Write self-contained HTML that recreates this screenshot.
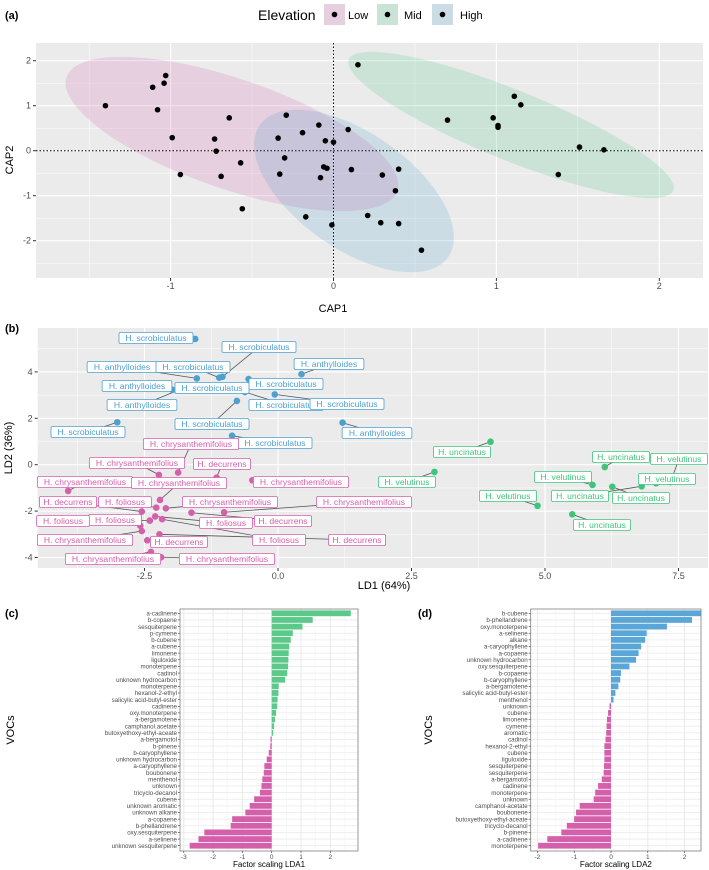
<!DOCTYPE html>
<html><head><meta charset="utf-8"><style>
html,body{margin:0;padding:0;background:#fff;}
svg{display:block;font-family:"Liberation Sans",Arial,sans-serif;}
</style></head><body>
<svg id="fig" width="709" height="870" viewBox="0 0 709 870" xmlns="http://www.w3.org/2000/svg"></svg>
<script>
// ---------- Panel (a) data ----------
const capLow = [[-1.4,1.0],[-1.11,1.41],[-1.04,1.5],[-1.03,1.67],[-1.08,0.91],[-0.99,0.29],[-0.73,0.26],[-0.72,-0.01],[-0.64,0.73],[-0.94,-0.53],[-0.69,-0.57],[-0.57,-0.27],[-0.56,-1.29],[-0.29,0.79],[-0.34,0.28],[-0.3,-0.16],[-0.33,-0.52],[-0.19,0.4],[-0.09,0.57],[-0.05,0.22],[0.0,0.19],[-0.06,-0.36],[-0.04,-0.39],[-0.08,-0.6],[0.09,0.47],[0.11,-0.42]];
const capHigh = [[0.3,-0.54],[0.4,-0.41],[0.38,-0.89],[-0.17,-1.47],[-0.01,-1.65],[0.21,-1.44],[0.29,-1.6],[0.4,-1.62],[0.54,-2.21]];
const capMid = [[0.15,1.91],[0.7,0.68],[0.98,0.73],[1.01,0.56],[1.01,0.52],[1.11,1.21],[1.15,1.02],[1.38,-0.53],[1.51,0.08],[1.66,0.02]];
const capXTicks = [-1,0,1,2];
const capYTicks = [2,1,0,-1,-2];

// ---------- Panel (b) data ----------
const ldNames = ["H. scrobiculatus","H. anthylloides","H. scrobiculatus","H. scrobiculatus","H. anthylloides","H. scrobiculatus","H. anthylloides","H. scrobiculatus","H. anthylloides","H. scrobiculatus","H. scrobiculatus","H. scrobiculatus","H. scrobiculatus","H. scrobiculatus","H. anthylloides",
"H. chrysanthemifolius","H. chrysanthemifolius","H. decurrens","H. chrysanthemifolius","H. chrysanthemifolius","H. chrysanthemifolius","H. decurrens","H. foliosus","H. chrysanthemifolius","H. chrysanthemifolius","H. decurrens","H. foliosus","H. foliosus","H. foliosus","H. foliosus","H. chrysanthemifolius","H. decurrens","H. decurrens","H. chrysanthemifolius","H. chrysanthemifolius",
"H. uncinatus","H. velutinus","H. velutinus","H. velutinus","H. uncinatus","H. uncinatus","H. uncinatus","H. uncinatus","H. velutinus","H. velutinus"];
const ldGroup = [0,0,0,0,0,0,0,0,0,0,0,0,0,0,0, 1,1,1,1,1,1,1,1,1,1,1,1,1,1,1,1,1,1,1,1, 2,2,2,2,2,2,2,2,2,2];
const ld1 = [-1.55,-1.52,-1.10,-1.04,0.44,-0.55,-1.98,-1.91,-1.88,-0.62,-0.06,-3.01,-0.77,-0.86,1.21,
-1.87,-2.23,-1.15,-0.48,-3.93,-2.21,-2.55,-2.28,-2.10,-1.01,-1.62,-2.30,-2.40,-2.17,-2.58,-2.55,-2.22,-2.45,-2.38,-2.19,
3.98,2.93,4.86,5.89,6.12,6.26,5.51,6.81,7.08,7.35];
const ld2 = [5.42,3.72,3.75,3.79,3.90,3.69,3.23,3.23,3.20,3.13,3.03,1.83,2.75,1.25,1.81,
-0.34,-0.44,-0.56,-0.67,-1.13,-1.52,-2.02,-1.85,-1.88,-2.05,-2.07,-2.23,-2.41,-2.35,-2.63,-2.86,-3.00,-3.26,-3.76,-3.99,
0.99,-0.31,-1.77,-0.87,-0.10,-0.95,-2.14,-0.93,-0.80,-0.75];
const ldXTicks = [-2.5,0,2.5,5,7.5];
const ldYTicks = [4,2,0,-2,-4];
// label box centres (layout, px)
const ldLabelPos = [[156,338],[122,367],[193,367],[259,347],[329,364],[286,384],[137,386],[212,388],[142,405],[286,405],[347,404],[88,432],[212,424],[275,443],[377,433],
[191,444],[137,463],[222,464],[301,482],[85,482],[179,483],[68,502],[125,502],[230,502],[364,502],[283,521],[226,523],[115,520],[279,540],[63,521],[85,540],[357,540],[179,542],[113,559],[227,559],
[462,452],[407,482],[508,496],[563,477],[621,457],[641,498],[602,525],[580,496],[667,479],[679,459]];

// ---------- Panel (c) data ----------
const cNames = ["a-cadinene","b-copaene","sesquiterpene","p-cymene","b-cubene","a-cubene","limonene","liguloxide","monoterpene","cadinol","unknown hydrocarbon","monoterpene","hexanol-2-ethyl","salicylic acid-butyl-ester","cadinene","oxy.monoterpene","a-bergamotene","camphanol.acetate","butoxyethoxy-ethyl-aceate","a-bergamotol","b-pinene","b-caryophyllene","unknown hydrocarbon","a-caryophyllene","boubonene","menthenol","unknown","tricyclo-decanol","cubene","unknown aromatic","unknown alkane","a-copaene","b-phellandrene","oxy.sesquiterpene","a-selinene","unknown sesquiterpene"];
const cValues = [2.7,1.4,1.05,0.72,0.65,0.6,0.58,0.57,0.56,0.53,0.46,0.24,0.23,0.2,0.19,0.15,0.11,0.08,0.05,-0.04,-0.05,-0.1,-0.17,-0.25,-0.27,-0.32,-0.35,-0.4,-0.6,-0.75,-0.9,-1.35,-1.4,-2.3,-2.5,-2.8];
const cTicks = [-3,-2,-1,0,1,2];

// ---------- Panel (d) data ----------
const dNames = ["b-cubene","b-phellandrene","oxy.monoterpene","a-selinene","alkane","a-caryophyllene","a-copaene","unknown hydrocarbon","oxy.sesquiterpene","b-copaene","b-caryophyllene","a-bergamotene","salicylic acid-butyl-ester","menthenol","unknown","cubene","limonene","cymene","aromatic","cadinol","hexanol-2-ethyl","cubene","liguloxide","sesquiterpene","sesquiterpene","a-bergamotol","cadinene","monoterpene","unknown","camphanol-acetate","boubonene","butoxyethoxy-ethyl-aceate","tricyclo-decanol","b-pinene","a-cadinene","monoterpene"];
const dValues = [2.45,2.2,1.52,0.97,0.93,0.82,0.75,0.68,0.5,0.27,0.25,0.2,0.12,0.07,-0.04,-0.08,-0.11,-0.12,-0.13,-0.15,-0.18,-0.18,-0.18,-0.19,-0.2,-0.25,-0.35,-0.43,-0.47,-0.85,-0.95,-1.0,-1.2,-1.35,-1.73,-1.98];
const dTicks = [-2,-1,0,1,2];

const NS="http://www.w3.org/2000/svg";
const svg=document.getElementById('fig');
function mk(tag,attrs,parent){const e=document.createElementNS(NS,tag);for(const k in attrs)e.setAttribute(k,attrs[k]);(parent||svg).appendChild(e);return e;}
function txt(s,attrs,parent){const e=mk('text',attrs,parent);e.textContent=s;return e;}
const PINK="#d45fab",GREEN="#3fc47b",BLUE="#4ea0cf",TICK="#4d4d4d";

// ===== Panel (a) =====
(function(){
  const g=mk('g',{});
  
  
  const L=36,R=703,T=43,B=278;
  const sx=v=>333.5+v*162.9, sy=v=>150.7-v*45;
  mk('rect',{x:L,y:T,width:R-L,height:B-T,fill:"#ebebeb"},g);
  for(let v=-1.5;v<=2.5;v+=1){const x=sx(v);if(x>L&&x<R)mk('line',{x1:x,x2:x,y1:T,y2:B,stroke:"#fff","stroke-width":0.5},g);}
  for(let v=-2.5;v<=2.5;v+=1){const y=sy(v);if(y>T&&y<B)mk('line',{x1:L,x2:R,y1:y,y2:y,stroke:"#fff","stroke-width":0.5},g);}
  capXTicks.forEach(v=>{const x=sx(v);mk('line',{x1:x,x2:x,y1:T,y2:B,stroke:"#fff","stroke-width":1.1},g);mk('line',{x1:x,x2:x,y1:B,y2:B+3,stroke:"#333"},g);
    const t=txt(String(v),{x:x,y:B+11,"font-size":9,fill:TICK,"text-anchor":"middle"},g);});
  capYTicks.forEach(v=>{const y=sy(v);mk('line',{x1:L,x2:R,y1:y,y2:y,stroke:"#fff","stroke-width":1.1},g);mk('line',{x1:L-3,x2:L,y1:y,y2:y,stroke:"#333"},g);
    const t=txt(String(v),{x:L-5,y:y+3,"font-size":9,fill:TICK,"text-anchor":"end"},g);});
  const e1=mk('ellipse',{cx:232,cy:134,rx:175,ry:55,transform:"rotate(19 232 134)",fill:PINK,"fill-opacity":0.2},g);
  
  const e2=mk('ellipse',{cx:511,cy:125,rx:175,ry:35,transform:"rotate(22 511 125)",fill:GREEN,"fill-opacity":0.18},g);
  
  const e3=mk('ellipse',{cx:354,cy:191,rx:115,ry:58,transform:"rotate(35 354 191)",fill:BLUE,"fill-opacity":0.2},g);
  
  mk('line',{x1:sx(0),x2:sx(0),y1:T,y2:B,stroke:"#000","stroke-dasharray":"1.5,2","stroke-width":1},g);
  mk('line',{x1:L,x2:R,y1:sy(0),y2:sy(0),stroke:"#000","stroke-dasharray":"1.5,2","stroke-width":1},g);
  [capLow,capHigh,capMid].forEach((arr,i)=>arr.forEach(p=>{const c=mk('circle',{cx:sx(p[0]),cy:sy(p[1]),r:2.8,fill:"#000"},g);
    }));
  let t=txt("CAP1",{x:333,y:312,"font-size":11,fill:"#000","text-anchor":"middle"},g);
  t=txt("CAP2",{x:0,y:0,"font-size":11,fill:"#000","text-anchor":"middle",transform:"translate(13,160) rotate(-90)"},g);
  t=txt("(a)",{x:5,y:19,"font-size":11,"font-weight":"bold"},g);
  // legend
  const lg=mk('g',{},g);
  txt("Elevation",{x:258,y:20,"font-size":14,fill:"#000"},lg);
  [[324,PINK,"Low",348],[377,GREEN,"Mid",404],[432,BLUE,"High",460]].forEach(k=>{
    const e=mk('g',{},lg);
    mk('rect',{x:k[0],y:4,width:21,height:21,fill:"#ebebeb"},e);
    mk('rect',{x:k[0],y:4,width:21,height:21,fill:k[1],"fill-opacity":0.2},e);
    mk('circle',{cx:k[0]+10.5,cy:14.5,r:2.8,fill:"#000"},e);
    txt(k[2],{x:k[3],y:19,"font-size":11,fill:"#000"},e);
  });
})();

// ===== Panel (b) =====
(function(){
  const g=mk('g',{});
  
  
  const L=37.7,R=708,T=328,B=568;
  const sx=v=>278+v*53.4, sy=v=>464.7-v*23.2;
  mk('rect',{x:L,y:T,width:R-L,height:B-T,fill:"#ebebeb"},g);
  for(let v=-3.75;v<=8.75;v+=2.5){const x=sx(v);if(x>L&&x<R)mk('line',{x1:x,x2:x,y1:T,y2:B,stroke:"#fff","stroke-width":0.5},g);}
  for(let v=-5;v<=7;v+=2){const y=sy(v);if(y>T&&y<B)mk('line',{x1:L,x2:R,y1:y,y2:y,stroke:"#fff","stroke-width":0.5},g);}
  ldXTicks.forEach(v=>{const x=sx(v);mk('line',{x1:x,x2:x,y1:T,y2:B,stroke:"#fff","stroke-width":1.1},g);mk('line',{x1:x,x2:x,y1:B,y2:B+3,stroke:"#333"},g);
    const t=txt(v.toFixed(1),{x:x,y:B+11,"font-size":9,fill:TICK,"text-anchor":"middle"},g);});
  ldYTicks.forEach(v=>{const y=sy(v);mk('line',{x1:L,x2:R,y1:y,y2:y,stroke:"#fff","stroke-width":1.1},g);mk('line',{x1:L-3,x2:L,y1:y,y2:y,stroke:"#333"},g);
    const t=txt(String(v),{x:L-5,y:y+3,"font-size":9,fill:TICK,"text-anchor":"end"},g);});
  const cols=[BLUE,PINK,GREEN];
  // leader lines
  ldNames.forEach((n,i)=>{const lp=ldLabelPos[i];mk('line',{x1:sx(ld1[i]),y1:sy(ld2[i]),x2:lp[0],y2:lp[1],stroke:"#555","stroke-width":0.8},g);});
  ldNames.forEach((n,i)=>{const c=mk('circle',{cx:sx(ld1[i]),cy:sy(ld2[i]),r:3.3,fill:cols[ldGroup[i]]},g);
    });
  ldNames.forEach((n,i)=>{const lp=ldLabelPos[i];const col=cols[ldGroup[i]];
    const lb=mk('g',{},g);
    const w=n.length*4.25+6;
    mk('rect',{x:lp[0]-w/2,y:lp[1]-5.5,width:w,height:11,rx:1.5,fill:"#fff",stroke:col,"stroke-width":0.8},lb);
    txt(n,{x:lp[0],y:lp[1]+3.2,"font-size":8.6,fill:col,"text-anchor":"middle"},lb);
  });
  let t=txt("LD1 (64%)",{x:384,y:589,"font-size":11,fill:"#000","text-anchor":"middle"},g);
  t=txt("LD2 (36%)",{x:0,y:0,"font-size":11,fill:"#000","text-anchor":"middle",transform:"translate(12,448) rotate(-90)"},g);
  t=txt("(b)",{x:5,y:332,"font-size":11,"font-weight":"bold"},g);
})();

// ===== Bar panels =====
function barPanel(opts){
  const g=mk('g',{});
  
  
  const {L,R,T,B,x0,k,names,values,ticks,posCol}=opts;
  const sx=v=>x0+v*k;
  const y0=613.3,step=6.64;
  mk('rect',{x:L,y:T,width:R-L,height:B-T,fill:"#fff"},g);
  for(let v=ticks[0]-0.5;v<=ticks[ticks.length-1]+0.5;v+=1){const x=sx(v);if(x>L&&x<R)mk('line',{x1:x,x2:x,y1:T,y2:B,stroke:"#f2f2f2","stroke-width":0.5},g);}
  ticks.forEach(v=>mk('line',{x1:sx(v),x2:sx(v),y1:T,y2:B,stroke:"#e6e6e6","stroke-width":0.9},g));
  names.forEach((n,i)=>{const y=y0+i*step;mk('line',{x1:L,x2:R,y1:y,y2:y,stroke:"#ebebeb","stroke-width":0.8},g);});
  names.forEach((n,i)=>{const y=y0+i*step,v=values[i];
    const b=mk('rect',{x:Math.min(sx(0),sx(v)),y:y-2.9,width:Math.abs(sx(v)-sx(0)),height:5.8,fill:v>=0?posCol:PINK},g);
    
    mk('line',{x1:L-2,x2:L,y1:y,y2:y,stroke:"#333","stroke-width":0.6},g);
    const t=txt(n,{x:L-3,y:y+2.2,"font-size":6.2,fill:TICK,"text-anchor":"end"},g);
  });
  mk('rect',{x:L,y:T,width:R-L,height:B-T,fill:"none",stroke:"#7f7f7f","stroke-width":0.8},g);
  ticks.forEach(v=>{mk('line',{x1:sx(v),x2:sx(v),y1:B,y2:B+2,stroke:"#333","stroke-width":0.6},g);
    const t=txt(String(v),{x:sx(v),y:B+8,"font-size":6.5,fill:TICK,"text-anchor":"middle"},g);});
  let t=txt(opts.xtitle,{x:(L+R)/2,y:867,"font-size":8,fill:"#000","text-anchor":"middle"},g);
  t=txt("VOCs",{x:0,y:0,"font-size":11,fill:"#000","text-anchor":"middle",transform:`translate(${opts.vx},730) rotate(-90)`},g);
  t=txt(opts.tag,{x:opts.tx,y:617,"font-size":11,"font-weight":"bold"},g);
}
barPanel({name:'panel-c-lda1-bars',L:180,R:358,T:609,B:851,x0:271.7,k:29.3,names:cNames,values:cValues,ticks:cTicks,posCol:"#5cc98a",xtitle:"Factor scaling LDA1",vx:14,tag:"(c)",tx:5});
barPanel({name:'panel-d-lda2-bars',L:530.7,R:701,T:609,B:851,x0:611,k:36.8,names:dNames,values:dValues,ticks:dTicks,posCol:"#5aa6d6",xtitle:"Factor scaling LDA2",vx:432,tag:"(d)",tx:418});
</script>
</body></html>
